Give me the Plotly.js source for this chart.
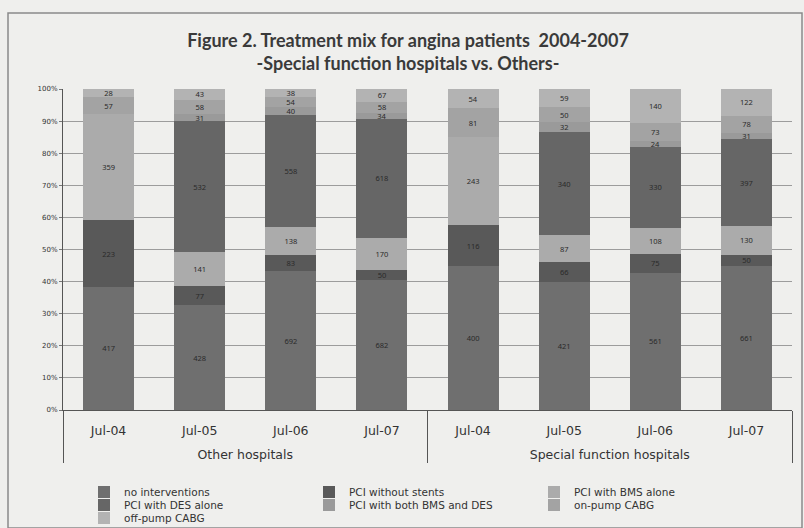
<!DOCTYPE html>
<html>
<head>
<meta charset="utf-8">
<script src="https://cdn.plot.ly/plotly-3.0.1.min.js"></script>
<style>
html,body{margin:0;padding:0;background:#e2e2e0;}
#chart{width:804px;height:528px;}
</style>
</head>
<body>
<div id="chart"></div>
<script>
var hospitalGroups = ["Other hospitals","Other hospitals","Other hospitals","Other hospitals",
  "Special function hospitals","Special function hospitals","Special function hospitals","Special function hospitals"];
var periods = ["Jul-04","Jul-05","Jul-06","Jul-07","Jul-04","Jul-05","Jul-06","Jul-07"];

var seriesNames = ["no interventions","PCI without stents","PCI with BMS alone","PCI with DES alone",
  "PCI with both BMS and DES","on-pump CABG","off-pump CABG"];
var noInterventions  = [417, 428, 692, 682, 400, 421, 561, 661];
var pciWithoutStents = [223,  77,  83,  50, 116,  66,  75,  50];
var bmsAlone         = [359, 141, 138, 170, 243,  87, 108, 130];
var desAlone         = [null, 532, 558, 618, null, 340, 330, 397];
var bothBmsDes       = [null,  31,  40,  34, null,  32,  24,  31];
var onPumpCabg       = [ 57,  58,  54,  58,  81,  50,  73,  78];
var offPumpCabg      = [ 28,  43,  38,  67,  54,  59, 140, 122];

var seriesValues = [noInterventions, pciWithoutStents, bmsAlone, desAlone, bothBmsDes, onPumpCabg, offPumpCabg];
var seriesColors = ["#6f6f6f","#595959","#ababab","#666666","#9a9a9a","#a3a3a3","#b3b3b3"];
var legendRow = ["legend","legend","legend","legend2","legend2","legend2","legend3"];

// group labels get a leading line break so they sit on a second, lower row
var groupLabels = hospitalGroups.map(function(g){ return "<br>" + g; });

var traces = seriesValues.map(function(vals, i){
  return {
    type: "bar",
    name: seriesNames[i],
    legend: legendRow[i],
    x: [groupLabels, periods],
    y: vals,
    text: vals.map(function(v){ return v == null ? "" : String(v); }),
    textposition: "inside",
    insidetextanchor: "middle",
    textangle: 0,
    textfont: {family: "Noto Sans, DejaVu Sans, sans-serif", size: 7.5, color: "#2a2a2a"},
    marker: {color: seriesColors[i], line: {width: 0}},
    hoverinfo: "skip"
  };
});

var L = 63, R = 12, T = 89, B = 118;
var W = 804 - L - R, H = 528 - T - B;

function legendAt(yPix){
  return {
    orientation: "h",
    xref: "container", yref: "container",
    x: 84/804, xanchor: "left",
    y: 1 - yPix/528, yanchor: "middle",
    entrywidth: 180, entrywidthmode: "pixels",
    itemwidth: 30,
    font: {family: "DejaVu Sans, sans-serif", size: 10.5, color: "#333333"},
    bgcolor: "rgba(0,0,0,0)",
    traceorder: "normal"
  };
}

var layout = {
  width: 804, height: 528,
  margin: {l: L, r: R, t: T, b: B},
  paper_bgcolor: "#efefed",
  plot_bgcolor: "#efefed",
  barmode: "stack",
  barnorm: "percent",
  bargap: 0.44,
  uniformtext: {mode: "show", minsize: 7.5},
  font: {family: "DejaVu Sans, sans-serif", color: "#333333"},
  title: {
    text: "<b>Figure 2. Treatment mix for angina patients  2004-2007</b><br><b>-Special function hospitals vs. Others-</b>",
    font: {family: "Lato, Open Sans, sans-serif", size: 18, color: "#3a3a3a"},
    x: 408/804, xanchor: "center",
    y: 1 - 47/528, yanchor: "top"
  },
  xaxis: {
    type: "multicategory",
    showline: true, linecolor: "#555555", linewidth: 1,
    ticks: "", ticklabelstandoff: 9,
    showdividers: true, dividercolor: "#555555", dividerwidth: 1,
    tickfont: {family: "DejaVu Sans, sans-serif", size: 12.5, color: "#333333"},
    showgrid: false, zeroline: false
  },
  yaxis: {
    range: [0, 100],
    tickvals: [0,10,20,30,40,50,60,70,80,90,100],
    ticktext: ["0%","10%","20%","30%","40%","50%","60%","70%","80%","90%","100%"],
    tickfont: {size: 7, color: "#333333"},
    showgrid: true, gridcolor: "#9c9c9c", gridwidth: 1,
    showline: true, linecolor: "#555555", linewidth: 1,
    ticks: "outside", ticklen: 3, tickcolor: "#777777",
    zeroline: false, fixedrange: true
  },
  showlegend: true,
  legend: legendAt(492),
  legend2: legendAt(505),
  legend3: legendAt(518),
  shapes: [{
    type: "rect", xref: "paper", yref: "paper",
    x0: -55/W, x1: 1 + 10/W, y0: -(527 - 409)/H, y1: (409 - 12)/H,
    line: {color: "#8a8a8a", width: 1.5}, fillcolor: "rgba(0,0,0,0)", layer: "below"
  }]
};

Plotly.newPlot("chart", traces, layout, {displayModeBar: false, staticPlot: true});
</script>
</body>
</html>
